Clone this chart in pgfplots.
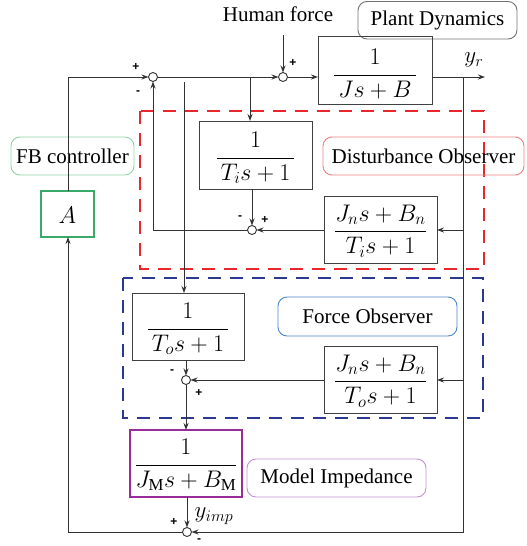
\documentclass[border=0pt]{standalone}
\usepackage{fix-cm}
\usepackage{pgfplots}
\pgfplotsset{compat=1.18}
\usetikzlibrary{arrows.meta}
\usepackage{fontspec}
\setmainfont{Liberation Serif}
\newfontfamily\signfont{Liberation Sans}

\definecolor{dobsred}{HTML}{E8262B}
\definecolor{fobsblue}{HTML}{2B3990}
\definecolor{fbgreen}{HTML}{3AAA6A}
\definecolor{fbgreenl}{HTML}{8FD4A8}
\definecolor{dobsredl}{HTML}{F08080}
\definecolor{fobsbluel}{HTML}{4A86C8}
\definecolor{modpurple}{HTML}{9B2D9B}
\definecolor{modpurplel}{HTML}{C490D0}

\tikzset{
  ln/.style={draw=black!80, line width=0.9pt},
  arr/.style={ln, -{Stealth[length=7pt,width=5pt]}},
  blk/.style={draw=black!75, line width=1pt},
  sum/.style={draw=black!80, fill=white, line width=0.9pt},
  sgn/.style={font=\signfont\fontsize{12}{12}\selectfont\bfseries, inner sep=0pt},
  lbl/.style={font=\fontsize{21}{25}\selectfont, inner sep=0pt},
  sig/.style={font=\fontsize{23}{27}\selectfont, inner sep=0pt},
  fr/.style={font=\fontsize{24}{29}\selectfont, inner sep=0pt},
  dsh/.style={line width=2pt, dash pattern=on 13pt off 9pt},
  tag/.style={line width=0.9pt, rounded corners=9pt},
}

\begin{document}
\begin{tikzpicture}
\begin{axis}[
    width=527pt, height=546pt, scale only axis,
    xmin=0, xmax=527, ymin=0, ymax=546,
    y dir=reverse, hide axis, clip=false,
  ]
  % observer regions
  \draw[dsh, draw=dobsred] (140,111) rectangle (484,269);
  \draw[dsh, draw=fobsblue] (123,278) rectangle (483,418);

  % rounded labels
  \draw[tag, draw=black!55] (358,1.5) rectangle (517,39);
  \node[lbl] at (437.5,20) {Plant Dynamics};
  \draw[tag, draw=fbgreenl] (11,137) rectangle (134,175);
  \node[lbl] at (72.5,156) {FB controller};
  \draw[tag, draw=dobsredl] (323,137) rectangle (524,175);
  \node[lbl] at (423.5,156) {Disturbance Observer};
  \draw[tag, draw=fobsbluel] (278,297) rectangle (457,336);
  \node[lbl] at (367.5,316.5) {Force Observer};
  \draw[tag, draw=modpurplel] (247,459) rectangle (426,497);
  \node[lbl] at (336.5,478) {Model Impedance};
  \node[lbl] at (278,14) {Human force};

  % blocks
  \draw[blk] (318,36) rectangle (432,104);
  \node[fr] at (375,74) {$\displaystyle\frac{1}{\,Js+B\,}$};
  \draw[blk] (199,121) rectangle (312,189);
  \node[fr] at (255.5,158) {$\displaystyle\frac{1}{\,T_is+1\,}$};
  \draw[blk] (324,196) rectangle (437,263);
  \node[fr] at (380.5,231) {$\displaystyle\frac{J_ns+B_n}{T_is+1}$};
  \draw[blk] (132,293) rectangle (244,360);
  \node[fr] at (188,329) {$\displaystyle\frac{1}{\,T_os+1\,}$};
  \draw[blk] (324,346) rectangle (437,413);
  \node[fr] at (380.5,381) {$\displaystyle\frac{J_ns+B_n}{T_os+1}$};
  \draw[draw=modpurple, line width=2pt] (130,430) rectangle (242,497);
  \node[fr] at (186,465) {$\displaystyle\frac{1}{J_{\mathrm{M}}s+B_{\mathrm{M}}}$};
  \draw[draw=fbgreen, line width=1.2pt] (41,191) rectangle (94,237);
  \node[fr] at (67.5,215) {$A$};

  % connections
  \draw[arr] (68,191) -- (68,77) -- (148.5,77);
  \draw[arr] (157.5,77) -- (278.5,77);
  \draw[arr] (283,35) -- (283,72.5);
  \draw[arr] (287.5,77) -- (318,77);
  \draw[arr] (432,77) -- (485,77);
  \draw[arr] (463,77) -- (463,532) -- (191.5,532);
  \draw[arr] (463,230) -- (437,230);
  \draw[arr] (463,380) -- (437,380);
  \draw[arr] (250,77) -- (250,121);
  \draw[arr] (252,189) -- (252,225.5);
  \draw[arr] (324,230) -- (256.5,230);
  \draw[arr] (247.5,230) -- (153,230) -- (153,81.5);
  \draw[arr] (184,82) -- (184,293);
  \draw[arr] (186,360) -- (186,375.5);
  \draw[arr] (324,380) -- (190.5,380);
  \draw[arr] (186,384.5) -- (186,430);
  \draw[arr] (187,497) -- (187,527.5);
  \draw[arr] (182.5,532) -- (68,532) -- (68,237);

  % summing points
  \draw[sum] (153,77) circle[radius=4.5pt];
  \draw[sum] (283,77) circle[radius=4.5pt];
  \draw[sum] (252,230) circle[radius=4.5pt];
  \draw[sum] (186,380) circle[radius=4.5pt];
  \draw[sum] (187,532) circle[radius=4.5pt];

  % signs
  \node[sgn] at (136,67) {+};
  \node[sgn] at (138,93) {-};
  \node[sgn] at (293,63) {+};
  \node[sgn] at (240,218) {-};
  \node[sgn] at (265,220) {+};
  \node[sgn] at (172,372) {-};
  \node[sgn] at (199,393) {+};
  \node[sgn] at (174,522) {+};
  \node[sgn] at (199,541) {-};

  % signal names
  \node[sig] at (474,60) {$y_r$};
  \node[sig] at (214,516) {$y_{imp}$};
\end{axis}
\pgfresetboundingbox
\path (current axis.south west) rectangle (current axis.north east);
\end{tikzpicture}
\end{document}
